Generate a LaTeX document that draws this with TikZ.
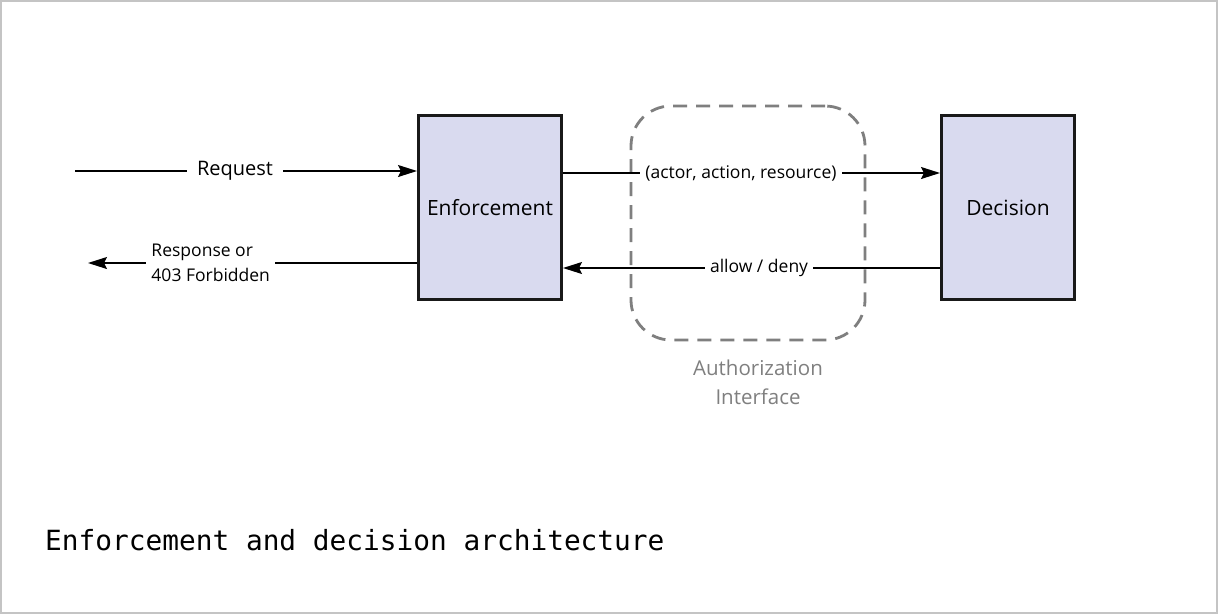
\documentclass[tikz,border=0pt]{standalone}
\usepackage{fontspec}
\setmainfont{Open Sans}
\setmonofont{DejaVu Sans Mono}
\usetikzlibrary{arrows.meta}
\definecolor{boxfill}{HTML}{D9DAEF}
\definecolor{framegray}{HTML}{C4C4C4}
\definecolor{dashgray}{HTML}{7F7F7F}
\begin{document}
\begin{tikzpicture}[x=1pt,y=-1pt,
  comp/.style={draw=black!90, line width=3pt, fill=boxfill, minimum height=184pt,
    inner sep=0pt, font=\fontsize{21}{25}\selectfont},
  flow/.style={line width=1.4pt, -{Stealth[length=19pt,width=12pt,inset=3pt]}},
  lbl/.style={fill=white, inner xsep=5pt, inner ysep=3pt, font=\fontsize{17.5}{25}\selectfont},
  zone/.style={draw=dashgray, line width=2.8pt, dash pattern=on 14pt off 9pt,
    rounded corners=40pt, minimum width=234pt, minimum height=234pt, inner sep=0pt}
]
% canvas and outer frame
\useasboundingbox (0,0) rectangle (1218,614);
\fill[white] (0,0) rectangle (1218,614);
\draw[framegray, line width=2pt] (1,1) rectangle (1217,613);

% authorization interface region
\node[zone] (authz) at (748,223) {};
\node[text=dashgray, align=center, font=\fontsize{20.5}{29}\selectfont] (authzlbl) at (758,382) {Authorization\\Interface};

% components
\node[comp, minimum width=143pt] (enf) at (490,207.5) {Enforcement};
\node[comp, minimum width=133pt] (dec) at (1008,207.5) {Decision};

% free ends of the outer connectors
\coordinate (reqin) at (75,171);
\coordinate (respout) at (88,263);

% request into enforcement
\draw[flow] (reqin) -- node[lbl, pos=0.468, inner xsep=10pt, font=\fontsize{20}{24}\selectfont] (reqlbl) {Request} (enf.west |- reqin);

% response back out
\draw[flow] (enf.west |- respout) -- node[lbl, pos=0.627, align=left] (resplbl) {Response or\\403 Forbidden} (respout);

% query to decision point
\draw[flow] (enf.east |- 0,173) -- node[lbl, pos=0.472] (querylbl) {(actor, action, resource)} (dec.west |- 0,173);

% verdict back to enforcement
\draw[flow] (dec.west |- 0,268) -- node[lbl, pos=0.48] (verdictlbl) {allow / deny} (enf.east |- 0,268);

% caption
\node[anchor=base west, inner sep=0pt, font=\ttfamily\fontsize{27.8}{30}\selectfont] (caption) at (45,550) {Enforcement and decision architecture};
\end{tikzpicture}
\end{document}
